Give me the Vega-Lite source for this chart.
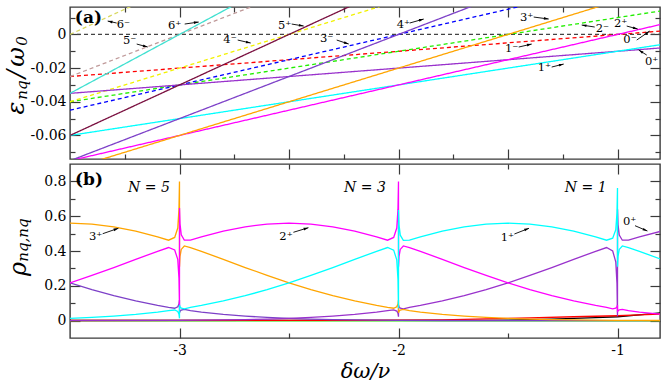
{
"$schema": "https://vega.github.io/schema/vega-lite/v6.json",
"padding": {"left": 3, "top": 5, "right": 2, "bottom": 2},
"background": "white",
"config": {
  "view": {"stroke": "#3a3a3a", "strokeWidth": 1.4},
  "font": "DejaVu Serif",
  "text": {"font": "DejaVu Serif"},
  "axis": {"labelFont": "DejaVu Serif", "labelFontSize": 14, "labelColor": "#000", "tickColor": "#3a3a3a", "tickWidth": 1.2, "domain": false, "grid": false, "labelFlush": false, "labelOverlap": false, "labelPadding": 14}
},
"datasets": {
  "la": [
    {"s":"0-","p":"minus","x":-3.5,"e":0},{"s":"0-","p":"minus","x":-0.806,"e":0},
    {"s":"1-","p":"minus","x":-3.5,"e":-0.025},{"s":"1-","p":"minus","x":-0.806,"e":0.00194},
    {"s":"2-","p":"minus","x":-3.5,"e":-0.04},{"s":"2-","p":"minus","x":-0.806,"e":0.01388},
    {"s":"3-","p":"minus","x":-3.5,"e":-0.045},{"s":"3-","p":"minus","x":-0.806,"e":0.03582},
    {"s":"4-","p":"minus","x":-3.5,"e":-0.04},{"s":"4-","p":"minus","x":-0.806,"e":0.06776},
    {"s":"5-","p":"minus","x":-3.5,"e":-0.025},{"s":"5-","p":"minus","x":-0.806,"e":0.1097},
    {"s":"6-","p":"minus","x":-3.5,"e":0},{"s":"6-","p":"minus","x":-0.806,"e":0.16164},
    {"s":"0+","p":"plus","x":-3.5,"e":-0.035},{"s":"0+","p":"plus","x":-0.806,"e":-0.00806},
    {"s":"1+","p":"plus","x":-3.5,"e":-0.06},{"s":"1+","p":"plus","x":-0.806,"e":-0.00612},
    {"s":"2+","p":"plus","x":-3.5,"e":-0.075},{"s":"2+","p":"plus","x":-0.806,"e":0.00582},
    {"s":"3+","p":"plus","x":-3.5,"e":-0.08},{"s":"3+","p":"plus","x":-0.806,"e":0.02776},
    {"s":"4+","p":"plus","x":-3.5,"e":-0.075},{"s":"4+","p":"plus","x":-0.806,"e":0.0597},
    {"s":"5+","p":"plus","x":-3.5,"e":-0.06},{"s":"5+","p":"plus","x":-0.806,"e":0.10164},
    {"s":"6+","p":"plus","x":-3.5,"e":-0.035},{"s":"6+","p":"plus","x":-0.806,"e":0.15358}
  ],
  "aa": [
    {"x":-3.2868,"y":0.00677,"x2":-3.3279,"y2":0.00796,"hx":-3.3146,"hy":0.00758,"a":282.5},
    {"x":-2.9763,"y":0.00618,"x2":-2.9123,"y2":0.00737,"hx":-2.9259,"hy":0.00712,"a":81.9},
    {"x":-3.1954,"y":-0.0057,"x2":-3.1452,"y2":-0.00749,"hx":-3.1584,"hy":-0.00701,"a":105.3},
    {"x":-2.4877,"y":0.00618,"x2":-2.4329,"y2":0.00499,"hx":-2.4464,"hy":0.00528,"a":99.5},
    {"x":-2.7342,"y":-0.00333,"x2":-2.6749,"y2":-0.00511,"hx":-2.6882,"hy":-0.00471,"a":103},
    {"x":-2.2822,"y":-0.00333,"x2":-2.2274,"y2":-0.0057,"hx":-2.2404,"hy":-0.00514,"a":108.4},
    {"x":-1.9489,"y":0.00677,"x2":-1.8849,"y2":0.00915,"hx":-1.8981,"hy":0.00866,"a":74},
    {"x":-1.3827,"y":0.01034,"x2":-1.3142,"y2":0.00915,"hx":-1.3277,"hy":0.00939,"a":97.6},
    {"x":-1.4511,"y":-0.00749,"x2":-1.3918,"y2":-0.0057,"hx":-1.4051,"hy":-0.0061,"a":77},
    {"x":-1.1041,"y":0.0044,"x2":-1.1635,"y2":0.00559,"hx":-1.15,"hy":0.00531,"a":278.7},
    {"x":-0.958,"y":0.00499,"x2":-0.9078,"y2":0.00321,"hx":-0.921,"hy":0.00368,"a":105.3},
    {"x":-0.9123,"y":-0.00333,"x2":-0.853,"y2":0.00202,"hx":-0.8643,"hy":0.001,"a":55.3},
    {"x":-0.8666,"y":-0.01224,"x2":-0.9032,"y2":-0.00927,"hx":-0.8916,"hy":-0.01021,"a":302},
    {"x":-1.3005,"y":-0.01937,"x2":-1.2457,"y2":-0.01759,"hx":-1.259,"hy":-0.01802,"a":76}
  ],
  "ta": [
    {"x":-3.2562,"y":0.00576,"t":"6⁻"},{"x":-3.0219,"y":0.00499,"t":"6⁺"},
    {"x":-3.2274,"y":-0.0041,"t":"5⁻"},{"x":-2.5196,"y":0.00499,"t":"5⁺"},
    {"x":-2.7694,"y":-0.0035,"t":"4⁻"},{"x":-2.3279,"y":-0.0029,"t":"3⁻"},
    {"x":-1.9776,"y":0.0054,"t":"4⁺"},{"x":-1.4146,"y":0.00974,"t":"3⁺"},
    {"x":-1.4831,"y":-0.0085,"t":"1⁻"},{"x":-1.069,"y":0.00303,"t":"2⁻"},
    {"x":-0.9854,"y":0.006,"t":"2⁺"},{"x":-0.9429,"y":-0.0035,"t":"0⁻"},
    {"x":-0.8438,"y":-0.0164,"t":"0⁺"},{"x":-1.3338,"y":-0.01979,"t":"1⁺"}
  ],
  "lb": [
    {"s":"2-","x":-3.5,"r":-0.001},{"s":"2-","x":-0.8,"r":-0.001},
    {"s":"0-","x":-3.5,"r":0.001},{"s":"0-","x":-1.6,"r":0.001},{"s":"0-","x":-1.5,"r":0.003},{"s":"0-","x":-1.4,"r":0.006},{"s":"0-","x":-1.3,"r":0.009},{"s":"0-","x":-1.2,"r":0.013},{"s":"0-","x":-1.1,"r":0.017},{"s":"0-","x":-1.0,"r":0.022},{"s":"0-","x":-0.9,"r":0.033},{"s":"0-","x":-0.8,"r":0.045},
    {"s":"1-","x":-3.5,"r":0.0005},{"s":"1-","x":-2.2,"r":0.001},{"s":"1-","x":-2.0,"r":0.002},{"s":"1-","x":-1.8,"r":0.004},{"s":"1-","x":-1.6,"r":0.01},{"s":"1-","x":-1.4,"r":0.016},{"s":"1-","x":-1.2,"r":0.022},{"s":"1-","x":-1.0,"r":0.028},{"s":"1-","x":-0.9,"r":0.033},{"s":"1-","x":-0.8,"r":0.038},
    {"s":"4+","x":-3.5,"r":0.217},{"s":"4+","x":-3.4,"r":0.178},{"s":"4+","x":-3.3,"r":0.143},{"s":"4+","x":-3.2,"r":0.113},{"s":"4+","x":-3.1,"r":0.087},{"s":"4+","x":-3.05,"r":0.076},{"s":"4+","x":-3.022,"r":0.071},{"s":"4+","x":-3.008,"r":0.079},{"s":"4+","x":-3.0025,"r":0.095},{"s":"4+","x":-3.0001,"r":0.118},{"s":"4+","x":-2.9999,"r":0.045},{"s":"4+","x":-2.9975,"r":0.054},{"s":"4+","x":-2.992,"r":0.061},{"s":"4+","x":-2.978,"r":0.064},{"s":"4+","x":-2.95,"r":0.057},{"s":"4+","x":-2.9,"r":0.049},{"s":"4+","x":-2.8,"r":0.036},{"s":"4+","x":-2.7,"r":0.026},{"s":"4+","x":-2.6,"r":0.018},{"s":"4+","x":-2.5,"r":0.0125},{"s":"4+","x":-2.4,"r":0.0085},{"s":"4+","x":-2.3,"r":0.0056},{"s":"4+","x":-2.2,"r":0.0037},{"s":"4+","x":-2.1,"r":0.0024},{"s":"4+","x":-2.0,"r":0.0015},{"s":"4+","x":-1.8,"r":0.0006},{"s":"4+","x":-1.5,"r":0.0001},{"s":"4+","x":-0.8,"r":0},
    {"s":"0+","x":-3.5,"r":0.0001},{"s":"0+","x":-3.0,"r":0.0015},{"s":"0+","x":-2.9,"r":0.0024},{"s":"0+","x":-2.8,"r":0.0037},{"s":"0+","x":-2.7,"r":0.0056},{"s":"0+","x":-2.6,"r":0.0085},{"s":"0+","x":-2.5,"r":0.0125},{"s":"0+","x":-2.4,"r":0.018},{"s":"0+","x":-2.3,"r":0.026},{"s":"0+","x":-2.2,"r":0.036},{"s":"0+","x":-2.1,"r":0.049},{"s":"0+","x":-2.05,"r":0.057},{"s":"0+","x":-2.022,"r":0.062},{"s":"0+","x":-2.008,"r":0.055},{"s":"0+","x":-2.0025,"r":0.042},{"s":"0+","x":-2.0001,"r":0.022},{"s":"0+","x":-1.9999,"r":0.09},{"s":"0+","x":-1.9975,"r":0.079},{"s":"0+","x":-1.992,"r":0.072},{"s":"0+","x":-1.978,"r":0.068},{"s":"0+","x":-1.95,"r":0.076},{"s":"0+","x":-1.9,"r":0.087},{"s":"0+","x":-1.8,"r":0.113},{"s":"0+","x":-1.7,"r":0.143},{"s":"0+","x":-1.6,"r":0.178},{"s":"0+","x":-1.5,"r":0.217},{"s":"0+","x":-1.4,"r":0.26},{"s":"0+","x":-1.3,"r":0.305},{"s":"0+","x":-1.2,"r":0.352},{"s":"0+","x":-1.1,"r":0.398},{"s":"0+","x":-1.05,"r":0.42},{"s":"0+","x":-1.022,"r":0.40},{"s":"0+","x":-1.008,"r":0.338},{"s":"0+","x":-1.0025,"r":0.213},{"s":"0+","x":-1.0001,"r":0.025},{"s":"0+","x":-0.9999,"r":0.64},{"s":"0+","x":-0.9975,"r":0.551},{"s":"0+","x":-0.992,"r":0.492},{"s":"0+","x":-0.978,"r":0.462},{"s":"0+","x":-0.95,"r":0.462},{"s":"0+","x":-0.9,"r":0.481},{"s":"0+","x":-0.8,"r":0.514},
    {"s":"3+","x":-3.5,"r":0.56},{"s":"3+","x":-3.4,"r":0.555},{"s":"3+","x":-3.3,"r":0.539},{"s":"3+","x":-3.2,"r":0.514},{"s":"3+","x":-3.1,"r":0.481},{"s":"3+","x":-3.05,"r":0.462},{"s":"3+","x":-3.022,"r":0.478},{"s":"3+","x":-3.008,"r":0.532},{"s":"3+","x":-3.0025,"r":0.639},{"s":"3+","x":-3.0001,"r":0.8},{"s":"3+","x":-2.9999,"r":0.31},{"s":"3+","x":-2.9975,"r":0.369},{"s":"3+","x":-2.992,"r":0.409},{"s":"3+","x":-2.978,"r":0.429},{"s":"3+","x":-2.95,"r":0.42},{"s":"3+","x":-2.9,"r":0.398},{"s":"3+","x":-2.8,"r":0.352},{"s":"3+","x":-2.7,"r":0.305},{"s":"3+","x":-2.6,"r":0.26},{"s":"3+","x":-2.5,"r":0.217},{"s":"3+","x":-2.4,"r":0.178},{"s":"3+","x":-2.3,"r":0.143},{"s":"3+","x":-2.2,"r":0.113},{"s":"3+","x":-2.1,"r":0.087},{"s":"3+","x":-2.05,"r":0.076},{"s":"3+","x":-2.022,"r":0.071},{"s":"3+","x":-2.008,"r":0.079},{"s":"3+","x":-2.0025,"r":0.095},{"s":"3+","x":-2.0001,"r":0.118},{"s":"3+","x":-1.9999,"r":0.045},{"s":"3+","x":-1.9975,"r":0.054},{"s":"3+","x":-1.992,"r":0.061},{"s":"3+","x":-1.978,"r":0.064},{"s":"3+","x":-1.95,"r":0.057},{"s":"3+","x":-1.9,"r":0.049},{"s":"3+","x":-1.8,"r":0.036},{"s":"3+","x":-1.7,"r":0.026},{"s":"3+","x":-1.6,"r":0.018},{"s":"3+","x":-1.5,"r":0.0125},{"s":"3+","x":-1.4,"r":0.0085},{"s":"3+","x":-1.3,"r":0.0056},{"s":"3+","x":-1.2,"r":0.0037},{"s":"3+","x":-1.1,"r":0.0024},{"s":"3+","x":-1.0,"r":0.0015},{"s":"3+","x":-0.9,"r":0.0009},{"s":"3+","x":-0.8,"r":0.0006},
    {"s":"2+","x":-3.5,"r":0.217},{"s":"2+","x":-3.4,"r":0.26},{"s":"2+","x":-3.3,"r":0.305},{"s":"2+","x":-3.2,"r":0.352},{"s":"2+","x":-3.1,"r":0.398},{"s":"2+","x":-3.05,"r":0.42},{"s":"2+","x":-3.022,"r":0.406},{"s":"2+","x":-3.008,"r":0.352},{"s":"2+","x":-3.0025,"r":0.243},{"s":"2+","x":-3.0001,"r":0.08},{"s":"2+","x":-2.9999,"r":0.647},{"s":"2+","x":-2.9975,"r":0.555},{"s":"2+","x":-2.992,"r":0.493},{"s":"2+","x":-2.978,"r":0.463},{"s":"2+","x":-2.95,"r":0.462},{"s":"2+","x":-2.9,"r":0.481},{"s":"2+","x":-2.8,"r":0.514},{"s":"2+","x":-2.7,"r":0.539},{"s":"2+","x":-2.6,"r":0.555},{"s":"2+","x":-2.5,"r":0.56},{"s":"2+","x":-2.4,"r":0.555},{"s":"2+","x":-2.3,"r":0.539},{"s":"2+","x":-2.2,"r":0.514},{"s":"2+","x":-2.1,"r":0.481},{"s":"2+","x":-2.05,"r":0.462},{"s":"2+","x":-2.022,"r":0.478},{"s":"2+","x":-2.008,"r":0.532},{"s":"2+","x":-2.0025,"r":0.639},{"s":"2+","x":-2.0001,"r":0.8},{"s":"2+","x":-1.9999,"r":0.31},{"s":"2+","x":-1.9975,"r":0.369},{"s":"2+","x":-1.992,"r":0.409},{"s":"2+","x":-1.978,"r":0.429},{"s":"2+","x":-1.95,"r":0.42},{"s":"2+","x":-1.9,"r":0.398},{"s":"2+","x":-1.8,"r":0.352},{"s":"2+","x":-1.7,"r":0.305},{"s":"2+","x":-1.6,"r":0.26},{"s":"2+","x":-1.5,"r":0.217},{"s":"2+","x":-1.4,"r":0.178},{"s":"2+","x":-1.3,"r":0.143},{"s":"2+","x":-1.2,"r":0.113},{"s":"2+","x":-1.1,"r":0.087},{"s":"2+","x":-1.05,"r":0.076},{"s":"2+","x":-1.022,"r":0.068},{"s":"2+","x":-1.008,"r":0.072},{"s":"2+","x":-1.0025,"r":0.079},{"s":"2+","x":-1.0001,"r":0.09},{"s":"2+","x":-0.9999,"r":0.05},{"s":"2+","x":-0.9975,"r":0.057},{"s":"2+","x":-0.992,"r":0.062},{"s":"2+","x":-0.978,"r":0.064},{"s":"2+","x":-0.95,"r":0.057},{"s":"2+","x":-0.9,"r":0.049},{"s":"2+","x":-0.8,"r":0.036},
    {"s":"1+","x":-3.5,"r":0.0125},{"s":"1+","x":-3.4,"r":0.018},{"s":"1+","x":-3.3,"r":0.026},{"s":"1+","x":-3.2,"r":0.036},{"s":"1+","x":-3.1,"r":0.049},{"s":"1+","x":-3.05,"r":0.057},{"s":"1+","x":-3.022,"r":0.061},{"s":"1+","x":-3.008,"r":0.053},{"s":"1+","x":-3.0025,"r":0.037},{"s":"1+","x":-3.0001,"r":0.013},{"s":"1+","x":-2.9999,"r":0.09},{"s":"1+","x":-2.9975,"r":0.079},{"s":"1+","x":-2.992,"r":0.072},{"s":"1+","x":-2.978,"r":0.068},{"s":"1+","x":-2.95,"r":0.076},{"s":"1+","x":-2.9,"r":0.087},{"s":"1+","x":-2.8,"r":0.113},{"s":"1+","x":-2.7,"r":0.143},{"s":"1+","x":-2.6,"r":0.178},{"s":"1+","x":-2.5,"r":0.217},{"s":"1+","x":-2.4,"r":0.26},{"s":"1+","x":-2.3,"r":0.305},{"s":"1+","x":-2.2,"r":0.352},{"s":"1+","x":-2.1,"r":0.398},{"s":"1+","x":-2.05,"r":0.42},{"s":"1+","x":-2.022,"r":0.405},{"s":"1+","x":-2.008,"r":0.349},{"s":"1+","x":-2.0025,"r":0.238},{"s":"1+","x":-2.0001,"r":0.071},{"s":"1+","x":-1.9999,"r":0.636},{"s":"1+","x":-1.9975,"r":0.549},{"s":"1+","x":-1.992,"r":0.491},{"s":"1+","x":-1.978,"r":0.461},{"s":"1+","x":-1.95,"r":0.462},{"s":"1+","x":-1.9,"r":0.481},{"s":"1+","x":-1.8,"r":0.514},{"s":"1+","x":-1.7,"r":0.539},{"s":"1+","x":-1.6,"r":0.555},{"s":"1+","x":-1.5,"r":0.56},{"s":"1+","x":-1.4,"r":0.555},{"s":"1+","x":-1.3,"r":0.539},{"s":"1+","x":-1.2,"r":0.514},{"s":"1+","x":-1.1,"r":0.481},{"s":"1+","x":-1.05,"r":0.462},{"s":"1+","x":-1.022,"r":0.474},{"s":"1+","x":-1.008,"r":0.522},{"s":"1+","x":-1.0025,"r":0.618},{"s":"1+","x":-1.0001,"r":0.762},{"s":"1+","x":-0.9999,"r":0.31},{"s":"1+","x":-0.9975,"r":0.369},{"s":"1+","x":-0.992,"r":0.409},{"s":"1+","x":-0.978,"r":0.429},{"s":"1+","x":-0.95,"r":0.42},{"s":"1+","x":-0.9,"r":0.398},{"s":"1+","x":-0.8,"r":0.352}
  ],
  "ab": [
    {"x":-3.3507,"y":0.4994,"x2":-3.279,"y2":0.5305,"hx":-3.292,"hy":0.5248,"a":71},
    {"x":-2.4799,"y":0.5075,"x2":-2.4114,"y2":0.5339,"hx":-2.4245,"hy":0.5289,"a":73},
    {"x":-1.4708,"y":0.4977,"x2":-1.4041,"y2":0.5305,"hx":-1.4169,"hy":0.5241,"a":68.7},
    {"x":-0.9201,"y":0.5454,"x2":-0.8635,"y2":0.5149,"hx":-0.8761,"hy":0.5217,"a":113}
  ],
  "tb": [
    {"x":-3.3827,"y":0.4822,"t":"3⁺"},{"x":-2.5137,"y":0.4822,"t":"2⁺"},
    {"x":-1.5027,"y":0.473,"t":"1⁺"},{"x":-0.9443,"y":0.5684,"t":"0⁺"}
  ]
},
"spacing": 1,
"resolve": {"scale": {"x": "independent", "y": "independent", "color": "independent", "strokeDash": "independent"}},
"vconcat": [
  {
    "width": 590, "height": 152,
    "resolve": {"axis": {"x": "independent", "y": "independent"}},
    "layer": [
      {"data": {"name": "la"}, "mark": {"type": "line", "clip": true, "strokeWidth": 1.3},
       "encoding": {
         "x": {"field": "x", "type": "quantitative", "scale": {"domain": [-3.5, -0.806], "nice": false, "zero": false},
               "axis": {"orient": "bottom", "values": [-3.25,-3,-2.75,-2.5,-2.25,-2,-1.75,-1.5,-1.25,-1], "labels": false, "title": null,
                        "tickSize": {"condition": {"test": "abs(datum.value*2-round(datum.value*2))<0.01", "value": -10}, "value": -5}}},
         "y": {"field": "e", "type": "quantitative", "scale": {"domain": [-0.074, 0.0163], "nice": false, "zero": false},
               "axis": {"orient": "left", "values": [0.01,0,-0.01,-0.02,-0.03,-0.04,-0.05,-0.06,-0.07], "title": null,
                        "labelExpr": "abs(datum.value*50-round(datum.value*50))<0.01 ? (abs(datum.value)<0.0001 ? '0' : '-'+format(-datum.value,'.2f')) : ''",
                        "tickSize": {"condition": {"test": "abs(datum.value*50-round(datum.value*50))<0.01", "value": -10}, "value": -5}}},
         "color": {"field": "s", "type": "nominal", "legend": null,
                   "scale": {"domain": ["0-","1-","2-","3-","4-","5-","6-","0+","1+","2+","3+","4+","5+","6+"],
                             "range": ["#444444","#ff0000","#22ee00","#0000ff","#f2f200","#c09a9a","#d8d860","#9932cc","#00ffff","#ff00ff","#ffa500","#7d40c8","#7a1040","#40e0d0"]}},
         "strokeDash": {"field": "p", "type": "nominal", "legend": null, "scale": {"domain": ["minus","plus"], "range": [[4,3],[1,0]]}}
       }},
      {"data": {"name": "aa"}, "mark": {"type": "rule", "color": "#000", "strokeWidth": 0.9},
       "encoding": {
         "x": {"field": "x", "type": "quantitative", "scale": {"domain": [-3.5, -0.806], "nice": false, "zero": false},
               "axis": {"orient": "top", "values": [-3.25,-3,-2.75,-2.5,-2.25,-2,-1.75,-1.5,-1.25,-1], "labels": false, "title": null,
                        "tickSize": {"condition": {"test": "abs(datum.value*2-round(datum.value*2))<0.01", "value": -10}, "value": -5}}},
         "y": {"field": "y", "type": "quantitative", "scale": {"domain": [-0.074, 0.0163], "nice": false, "zero": false},
               "axis": {"orient": "right", "values": [0.01,0,-0.01,-0.02,-0.03,-0.04,-0.05,-0.06,-0.07], "labels": false, "title": null,
                        "tickSize": {"condition": {"test": "abs(datum.value*50-round(datum.value*50))<0.01", "value": -10}, "value": -5}}},
         "x2": {"field": "x2"}, "y2": {"field": "y2"}
       }},
      {"data": {"name": "aa"}, "mark": {"type": "point", "shape": "M0,-1L-0.45,0.6L0.45,0.6Z", "filled": true, "color": "#000", "size": 36, "opacity": 1, "strokeWidth": 0},
       "encoding": {
         "x": {"field": "hx", "type": "quantitative", "scale": {"domain": [-3.5, -0.806], "nice": false, "zero": false}, "axis": null},
         "y": {"field": "hy", "type": "quantitative", "scale": {"domain": [-0.074, 0.0163], "nice": false, "zero": false}, "axis": null},
         "angle": {"field": "a", "type": "quantitative", "scale": null}
       }},
      {"data": {"name": "ta"}, "mark": {"type": "text", "fontSize": 11.5, "font": "DejaVu Serif", "color": "#000"},
       "encoding": {
         "x": {"field": "x", "type": "quantitative", "scale": {"domain": [-3.5, -0.806], "nice": false, "zero": false}, "axis": null},
         "y": {"field": "y", "type": "quantitative", "scale": {"domain": [-0.074, 0.0163], "nice": false, "zero": false}, "axis": null},
         "text": {"field": "t"}
       }},
      {"data": {"values": [{"x": -3.416, "y": 0.00992, "t": "(a)"}]}, "mark": {"type": "text", "fontSize": 17, "fontWeight": "bold", "font": "DejaVu Serif", "color": "#000"},
       "encoding": {
         "x": {"field": "x", "type": "quantitative", "scale": {"domain": [-3.5, -0.806], "nice": false, "zero": false}, "axis": null},
         "y": {"field": "y", "type": "quantitative", "scale": {"domain": [-0.074, 0.0163], "nice": false, "zero": false}, "axis": null},
         "text": {"field": "t"}
       }},
      {"data": {"values": [{"x": -3.7434, "y": -0.04373, "t": "ε"}, {"x": -3.7434, "y": -0.02353, "t": "/"}, {"x": -3.7434, "y": -0.01343, "t": "ω"}]},
       "mark": {"type": "text", "angle": 270, "fontSize": 24, "fontStyle": "italic", "font": "DejaVu Serif", "color": "#000", "align": "center", "baseline": "middle"},
       "encoding": {
         "x": {"field": "x", "type": "quantitative", "scale": {"domain": [-3.5, -0.806], "nice": false, "zero": false}, "axis": null},
         "y": {"field": "y", "type": "quantitative", "scale": {"domain": [-0.074, 0.0163], "nice": false, "zero": false}, "axis": null},
         "text": {"field": "t"}
       }},
      {"data": {"values": [{"x": -3.7205, "y": -0.03304, "t": "nq"}, {"x": -3.7205, "y": -0.00392, "t": "0"}]},
       "mark": {"type": "text", "angle": 270, "fontSize": 15, "fontStyle": "italic", "font": "DejaVu Serif", "color": "#000", "align": "center", "baseline": "middle"},
       "encoding": {
         "x": {"field": "x", "type": "quantitative", "scale": {"domain": [-3.5, -0.806], "nice": false, "zero": false}, "axis": null},
         "y": {"field": "y", "type": "quantitative", "scale": {"domain": [-0.074, 0.0163], "nice": false, "zero": false}, "axis": null},
         "text": {"field": "t"}
       }}
    ]
  },
  {
    "width": 590, "height": 174,
    "resolve": {"axis": {"x": "independent", "y": "independent"}},
    "layer": [
      {"data": {"name": "lb"}, "mark": {"type": "line", "clip": true, "strokeWidth": 1.3},
       "encoding": {
         "x": {"field": "x", "type": "quantitative", "scale": {"domain": [-3.5, -0.806], "nice": false, "zero": false},
               "axis": {"orient": "bottom", "values": [-3,-2.5,-2,-1.5,-1], "labelPadding": 15,
                        "labelExpr": "abs(datum.value-round(datum.value))<0.01 ? '-'+format(-datum.value,'d') : ''",
                        "title": "δω/ν", "titleFont": "DejaVu Serif", "titleFontSize": 21, "titleFontStyle": "italic", "titleFontWeight": "normal", "titleColor": "#000", "titlePadding": -2,
                        "tickSize": {"condition": {"test": "abs(datum.value-round(datum.value))<0.01", "value": -10}, "value": -5}}},
         "y": {"field": "r", "type": "quantitative", "scale": {"domain": [-0.1, 0.9], "nice": false, "zero": false},
               "axis": {"orient": "left", "values": [0,0.1,0.2,0.3,0.4,0.5,0.6,0.7,0.8], "title": null,
                        "labelExpr": "datum.value<0.001 ? '0' : (abs(datum.value*5-round(datum.value*5))<0.01 ? format(datum.value,'.1f') : '')",
                        "tickSize": {"condition": {"test": "abs(datum.value*5-round(datum.value*5))<0.01", "value": -10}, "value": -5}}},
         "color": {"field": "s", "type": "nominal", "legend": null,
                   "scale": {"domain": ["2-","0-","1-","4+","0+","3+","2+","1+"],
                             "range": ["#22dd00","#000000","#ff0000","#7d40c8","#9932cc","#ffa500","#ff00ff","#00ffff"]}}
       }},
      {"data": {"name": "ab"}, "mark": {"type": "rule", "color": "#000", "strokeWidth": 0.9},
       "encoding": {
         "x": {"field": "x", "type": "quantitative", "scale": {"domain": [-3.5, -0.806], "nice": false, "zero": false},
               "axis": {"orient": "top", "values": [-3,-2.5,-2,-1.5,-1], "labels": false, "title": null,
                        "tickSize": {"condition": {"test": "abs(datum.value-round(datum.value))<0.01", "value": -10}, "value": -5}}},
         "y": {"field": "y", "type": "quantitative", "scale": {"domain": [-0.1, 0.9], "nice": false, "zero": false},
               "axis": {"orient": "right", "values": [0,0.1,0.2,0.3,0.4,0.5,0.6,0.7,0.8], "labels": false, "title": null,
                        "tickSize": {"condition": {"test": "abs(datum.value*5-round(datum.value*5))<0.01", "value": -10}, "value": -5}}},
         "x2": {"field": "x2"}, "y2": {"field": "y2"}
       }},
      {"data": {"name": "ab"}, "mark": {"type": "point", "shape": "M0,-1L-0.45,0.6L0.45,0.6Z", "filled": true, "color": "#000", "size": 36, "opacity": 1, "strokeWidth": 0},
       "encoding": {
         "x": {"field": "hx", "type": "quantitative", "scale": {"domain": [-3.5, -0.806], "nice": false, "zero": false}, "axis": null},
         "y": {"field": "hy", "type": "quantitative", "scale": {"domain": [-0.1, 0.9], "nice": false, "zero": false}, "axis": null},
         "angle": {"field": "a", "type": "quantitative", "scale": null}
       }},
      {"data": {"name": "tb"}, "mark": {"type": "text", "fontSize": 11.5, "font": "DejaVu Serif", "color": "#000"},
       "encoding": {
         "x": {"field": "x", "type": "quantitative", "scale": {"domain": [-3.5, -0.806], "nice": false, "zero": false}, "axis": null},
         "y": {"field": "y", "type": "quantitative", "scale": {"domain": [-0.1, 0.9], "nice": false, "zero": false}, "axis": null},
         "text": {"field": "t"}
       }},
      {"data": {"values": [{"x": -3.1393, "y": 0.7603, "t": "N = 5"}, {"x": -2.153, "y": 0.7603, "t": "N = 3"}, {"x": -1.1452, "y": 0.7603, "t": "N = 1"}]},
       "mark": {"type": "text", "fontSize": 14, "fontStyle": "italic", "font": "DejaVu Serif", "color": "#000"},
       "encoding": {
         "x": {"field": "x", "type": "quantitative", "scale": {"domain": [-3.5, -0.806], "nice": false, "zero": false}, "axis": null},
         "y": {"field": "y", "type": "quantitative", "scale": {"domain": [-0.1, 0.9], "nice": false, "zero": false}, "axis": null},
         "text": {"field": "t"}
       }},
      {"data": {"values": [{"x": -3.4133, "y": 0.808, "t": "(b)"}]}, "mark": {"type": "text", "fontSize": 17, "fontWeight": "bold", "font": "DejaVu Serif", "color": "#000"},
       "encoding": {
         "x": {"field": "x", "type": "quantitative", "scale": {"domain": [-3.5, -0.806], "nice": false, "zero": false}, "axis": null},
         "y": {"field": "y", "type": "quantitative", "scale": {"domain": [-0.1, 0.9], "nice": false, "zero": false}, "axis": null},
         "text": {"field": "t"}
       }},
      {"data": {"values": [{"x": -3.7342, "y": 0.2966, "t": "ρ"}]},
       "mark": {"type": "text", "angle": 270, "fontSize": 24, "fontStyle": "italic", "font": "DejaVu Serif", "color": "#000", "align": "center", "baseline": "middle"},
       "encoding": {
         "x": {"field": "x", "type": "quantitative", "scale": {"domain": [-3.5, -0.806], "nice": false, "zero": false}, "axis": null},
         "y": {"field": "y", "type": "quantitative", "scale": {"domain": [-0.1, 0.9], "nice": false, "zero": false}, "axis": null},
         "text": {"field": "t"}
       }},
      {"data": {"values": [{"x": -3.716, "y": 0.463, "t": "nq,nq"}]},
       "mark": {"type": "text", "angle": 270, "fontSize": 15, "fontStyle": "italic", "font": "DejaVu Serif", "color": "#000", "align": "center", "baseline": "middle"},
       "encoding": {
         "x": {"field": "x", "type": "quantitative", "scale": {"domain": [-3.5, -0.806], "nice": false, "zero": false}, "axis": null},
         "y": {"field": "y", "type": "quantitative", "scale": {"domain": [-0.1, 0.9], "nice": false, "zero": false}, "axis": null},
         "text": {"field": "t"}
       }}
    ]
  }
]
}
